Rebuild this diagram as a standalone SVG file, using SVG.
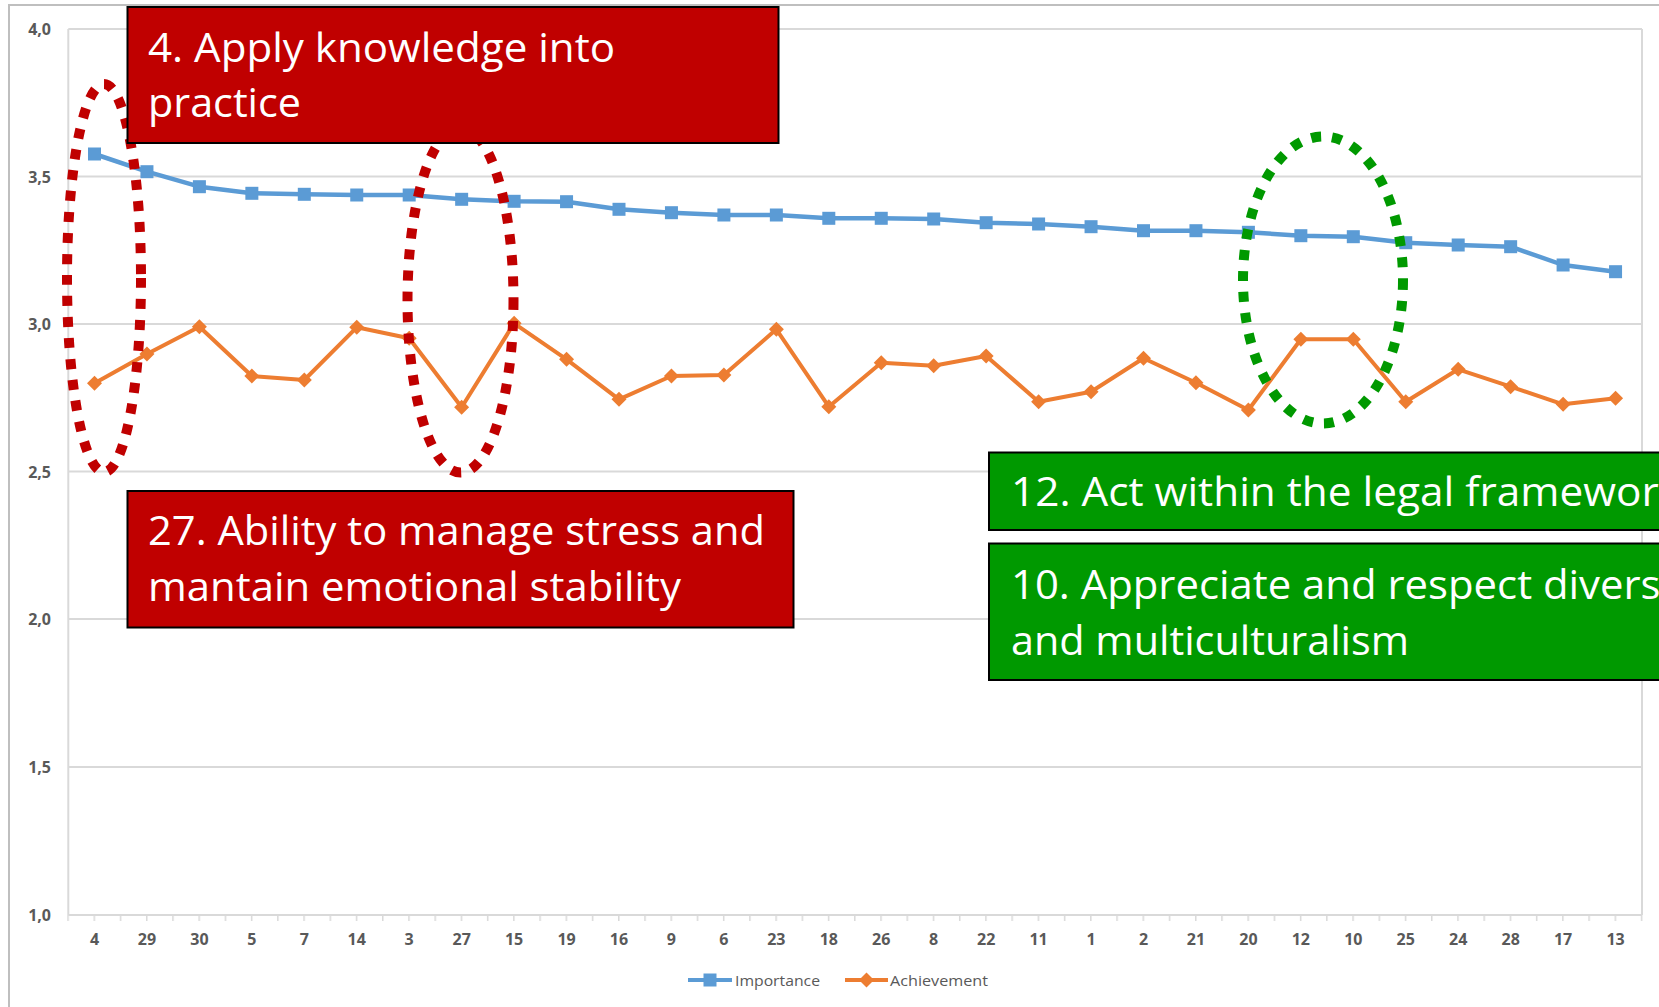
<svg xmlns="http://www.w3.org/2000/svg" xmlns:xlink="http://www.w3.org/1999/xlink" width="1659" height="1007" viewBox="0 0 1659 1007">
<defs>
<style>
.frame{fill:none;stroke:#BFBFBF;stroke-width:2}
.grid{fill:none;stroke:#D9D9D9;stroke-width:2}
.ax{font-family:'Open Sans','Liberation Sans',sans-serif;font-size:16px;font-weight:bold;fill:#595959}
.ylab{text-anchor:end}
.xlab{text-anchor:middle}
.leg{font-family:'Open Sans','Liberation Sans',sans-serif;font-size:15px;fill:#595959}
.imp{fill:none;stroke:#5B9BD5;stroke-width:4.5;stroke-linejoin:round}
.ach{fill:none;stroke:#ED7D31;stroke-width:4;stroke-linejoin:round}
.sq{fill:#5B9BD5}
.dm{fill:#ED7D31}
.box-r{fill:#C00000;stroke:#000;stroke-width:2}
.box-g{fill:#009900;stroke:#000;stroke-width:2}
.bt{font-family:'Open Sans','Liberation Sans',sans-serif;font-size:40px;fill:#FFFFFF}
.hl{fill:none;stroke-width:10;stroke-dasharray:10 11}
.hl-r{stroke:#C00000}
.hl-g{stroke:#009900}
</style>
<rect id="sqm" class="sq" x="-6.5" y="-6.5" width="13" height="13"/>
<path id="dmm" class="dm" d="M0,-7.5 L7.5,0 L0,7.5 L-7.5,0 Z"/>
<pattern id="tk" patternUnits="userSpaceOnUse" x="67.3" y="915" width="26.225" height="8">
<rect x="0" y="0" width="1.5" height="6" fill="#D9D9D9"/>
</pattern>
</defs>

<rect x="0" y="0" width="1659" height="1007" fill="#FFFFFF"/>
<path class="frame" d="M9,1007 V5 H1659"/>

<g id="chart-grid">
<path class="grid" d="M68.3,29 H1642 M68.3,176.5 H1642 M68.3,324 H1642 M68.3,471.5 H1642 M68.3,619 H1642 M68.3,767 H1642 M68.3,915 H1642 M68.3,29 V915 M1642,29 V915"/>
<rect x="67" y="915" width="1577" height="6" fill="url(#tk)"/>
</g>

<g id="y-axis" class="ax ylab">
<text x="51" y="35">4,0</text>
<text x="51" y="182.5">3,5</text>
<text x="51" y="330">3,0</text>
<text x="51" y="477.5">2,5</text>
<text x="51" y="625">2,0</text>
<text x="51" y="773">1,5</text>
<text x="51" y="921">1,0</text>
</g>

<g id="x-axis" class="ax xlab">
<text x="94.5" y="945">4</text>
<text x="146.95" y="945">29</text>
<text x="199.4" y="945">30</text>
<text x="251.85" y="945">5</text>
<text x="304.3" y="945">7</text>
<text x="356.75" y="945">14</text>
<text x="409.2" y="945">3</text>
<text x="461.65" y="945">27</text>
<text x="514.1" y="945">15</text>
<text x="566.55" y="945">19</text>
<text x="619" y="945">16</text>
<text x="671.45" y="945">9</text>
<text x="723.9" y="945">6</text>
<text x="776.35" y="945">23</text>
<text x="828.8" y="945">18</text>
<text x="881.25" y="945">26</text>
<text x="933.7" y="945">8</text>
<text x="986.15" y="945">22</text>
<text x="1038.6" y="945">11</text>
<text x="1091.05" y="945">1</text>
<text x="1143.5" y="945">2</text>
<text x="1195.95" y="945">21</text>
<text x="1248.4" y="945">20</text>
<text x="1300.85" y="945">12</text>
<text x="1353.3" y="945">10</text>
<text x="1405.75" y="945">25</text>
<text x="1458.2" y="945">24</text>
<text x="1510.65" y="945">28</text>
<text x="1563.1" y="945">17</text>
<text x="1615.55" y="945">13</text>
</g>

<g id="series-importance">
<polyline class="imp" points="94.5,154 146.95,171.7 199.4,186.7 251.85,193.3 304.3,194.3 356.75,195 409.2,195 461.65,199.3 514.1,201.3 566.55,201.7 619,209.3 671.45,212.7 723.9,215 776.35,215 828.8,218.3 881.25,218.3 933.7,219 986.15,222.7 1038.6,224 1091.05,226.7 1143.5,230.7 1195.95,230.7 1248.4,232.3 1300.85,235.7 1353.3,236.7 1405.75,242.7 1458.2,245 1510.65,246.7 1563.1,265 1615.55,271.7"/>
<use xlink:href="#sqm" x="94.5" y="154"/>
<use xlink:href="#sqm" x="146.95" y="171.7"/>
<use xlink:href="#sqm" x="199.4" y="186.7"/>
<use xlink:href="#sqm" x="251.85" y="193.3"/>
<use xlink:href="#sqm" x="304.3" y="194.3"/>
<use xlink:href="#sqm" x="356.75" y="195"/>
<use xlink:href="#sqm" x="409.2" y="195"/>
<use xlink:href="#sqm" x="461.65" y="199.3"/>
<use xlink:href="#sqm" x="514.1" y="201.3"/>
<use xlink:href="#sqm" x="566.55" y="201.7"/>
<use xlink:href="#sqm" x="619" y="209.3"/>
<use xlink:href="#sqm" x="671.45" y="212.7"/>
<use xlink:href="#sqm" x="723.9" y="215"/>
<use xlink:href="#sqm" x="776.35" y="215"/>
<use xlink:href="#sqm" x="828.8" y="218.3"/>
<use xlink:href="#sqm" x="881.25" y="218.3"/>
<use xlink:href="#sqm" x="933.7" y="219"/>
<use xlink:href="#sqm" x="986.15" y="222.7"/>
<use xlink:href="#sqm" x="1038.6" y="224"/>
<use xlink:href="#sqm" x="1091.05" y="226.7"/>
<use xlink:href="#sqm" x="1143.5" y="230.7"/>
<use xlink:href="#sqm" x="1195.95" y="230.7"/>
<use xlink:href="#sqm" x="1248.4" y="232.3"/>
<use xlink:href="#sqm" x="1300.85" y="235.7"/>
<use xlink:href="#sqm" x="1353.3" y="236.7"/>
<use xlink:href="#sqm" x="1405.75" y="242.7"/>
<use xlink:href="#sqm" x="1458.2" y="245"/>
<use xlink:href="#sqm" x="1510.65" y="246.7"/>
<use xlink:href="#sqm" x="1563.1" y="265"/>
<use xlink:href="#sqm" x="1615.55" y="271.7"/>
</g>

<g id="series-achievement">
<polyline class="ach" points="94.5,383.3 146.95,354 199.4,326.7 251.85,376 304.3,380 356.75,327.3 409.2,338.3 461.65,407.3 514.1,323.3 566.55,359.3 619,399.3 671.45,376 723.9,375 776.35,329.3 828.8,406.7 881.25,362.7 933.7,365.7 986.15,356 1038.6,401.7 1091.05,391.7 1143.5,358.3 1195.95,382.7 1248.4,410 1300.85,339.3 1353.3,339.3 1405.75,401.7 1458.2,369.3 1510.65,386.7 1563.1,404.3 1615.55,398.3"/>
<use xlink:href="#dmm" x="94.5" y="383.3"/>
<use xlink:href="#dmm" x="146.95" y="354"/>
<use xlink:href="#dmm" x="199.4" y="326.7"/>
<use xlink:href="#dmm" x="251.85" y="376"/>
<use xlink:href="#dmm" x="304.3" y="380"/>
<use xlink:href="#dmm" x="356.75" y="327.3"/>
<use xlink:href="#dmm" x="409.2" y="338.3"/>
<use xlink:href="#dmm" x="461.65" y="407.3"/>
<use xlink:href="#dmm" x="514.1" y="323.3"/>
<use xlink:href="#dmm" x="566.55" y="359.3"/>
<use xlink:href="#dmm" x="619" y="399.3"/>
<use xlink:href="#dmm" x="671.45" y="376"/>
<use xlink:href="#dmm" x="723.9" y="375"/>
<use xlink:href="#dmm" x="776.35" y="329.3"/>
<use xlink:href="#dmm" x="828.8" y="406.7"/>
<use xlink:href="#dmm" x="881.25" y="362.7"/>
<use xlink:href="#dmm" x="933.7" y="365.7"/>
<use xlink:href="#dmm" x="986.15" y="356"/>
<use xlink:href="#dmm" x="1038.6" y="401.7"/>
<use xlink:href="#dmm" x="1091.05" y="391.7"/>
<use xlink:href="#dmm" x="1143.5" y="358.3"/>
<use xlink:href="#dmm" x="1195.95" y="382.7"/>
<use xlink:href="#dmm" x="1248.4" y="410"/>
<use xlink:href="#dmm" x="1300.85" y="339.3"/>
<use xlink:href="#dmm" x="1353.3" y="339.3"/>
<use xlink:href="#dmm" x="1405.75" y="401.7"/>
<use xlink:href="#dmm" x="1458.2" y="369.3"/>
<use xlink:href="#dmm" x="1510.65" y="386.7"/>
<use xlink:href="#dmm" x="1563.1" y="404.3"/>
<use xlink:href="#dmm" x="1615.55" y="398.3"/>
</g>

<g id="legend">
<line x1="688" y1="980" x2="732" y2="980" stroke="#5B9BD5" stroke-width="4"/>
<use xlink:href="#sqm" x="710" y="980"/>
<text class="leg" x="735" y="986" textLength="85" lengthAdjust="spacingAndGlyphs">Importance</text>
<line x1="845" y1="980" x2="888" y2="980" stroke="#ED7D31" stroke-width="4"/>
<use xlink:href="#dmm" x="866.5" y="980"/>
<text class="leg" x="890" y="986" textLength="98" lengthAdjust="spacingAndGlyphs">Achievement</text>
</g>

<g id="highlight-item4">
<ellipse class="hl hl-r" cx="104" cy="278" rx="37" ry="194"/>
</g>
<g id="highlight-item27">
<ellipse class="hl hl-r" cx="460.5" cy="300" rx="53" ry="172.5"/>
</g>
<g id="highlight-items12-10">
<ellipse class="hl hl-g" cx="1323" cy="280" rx="80" ry="143.5"/>
</g>

<g id="label-item4">
<rect class="box-r" x="127.5" y="7" width="651" height="136"/>
<text class="bt" x="148" y="62" textLength="467" lengthAdjust="spacingAndGlyphs">4. Apply knowledge into</text>
<text class="bt" x="148" y="117" textLength="153" lengthAdjust="spacingAndGlyphs">practice</text>
</g>

<g id="label-item27">
<rect class="box-r" x="127.5" y="491" width="666" height="136.5"/>
<text class="bt" x="148" y="545" textLength="617" lengthAdjust="spacingAndGlyphs">27. Ability to manage stress and</text>
<text class="bt" x="148" y="600.5" textLength="533" lengthAdjust="spacingAndGlyphs">mantain emotional stability</text>
</g>

<g id="label-item12">
<rect class="box-g" x="989" y="452.5" width="700" height="77.5"/>
<text class="bt" x="1011" y="506" textLength="670" lengthAdjust="spacingAndGlyphs">12. Act within the legal framework</text>
</g>

<g id="label-item10">
<rect class="box-g" x="989" y="543.5" width="700" height="136.5"/>
<text class="bt" x="1011" y="599" textLength="696" lengthAdjust="spacingAndGlyphs">10. Appreciate and respect diversity</text>
<text class="bt" x="1011" y="655" textLength="398" lengthAdjust="spacingAndGlyphs">and multiculturalism</text>
</g>
</svg>
